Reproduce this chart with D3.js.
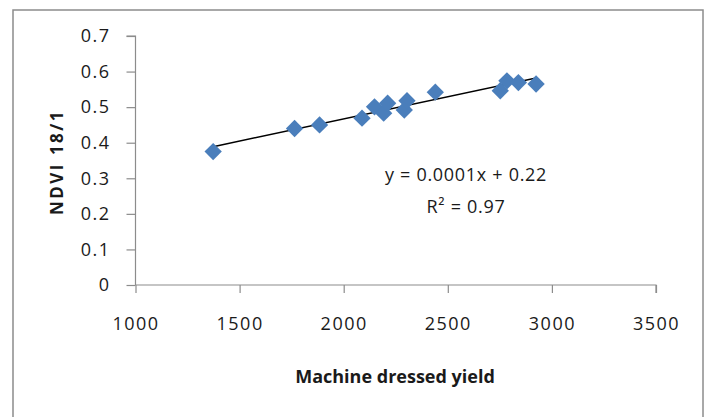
<!DOCTYPE html>
<html>
<head>
<meta charset="utf-8">
<script src="https://cdn.jsdelivr.net/npm/d3@7"></script>
<style>
  body { margin: 0; background: #fff; }
  text { font-family: 'Open Sans', sans-serif; fill: #1a1a1a; }
</style>
</head>
<body>
<div id="container"></div>
<script>
const yieldValues = [1373, 1764, 1884, 2088, 2148, 2192, 2211, 2291, 2304, 2440, 2752, 2784, 2839, 2924];
const ndviValues = [0.375, 0.44, 0.45, 0.469, 0.501, 0.483, 0.511, 0.492, 0.518, 0.542, 0.546, 0.574, 0.569, 0.565];
const xTicks = [1000, 1500, 2000, 2500, 3000, 3500];
const yTicks = [0, 0.1, 0.2, 0.3, 0.4, 0.5, 0.6, 0.7];
const equationLines = ['y = 0.0001x + 0.22', 'R² = 0.97'];

const svgWidth = 710;
const svgHeight = 417;

const svg = d3
  .select('#container')
  .append('svg')
  .attr('width', svgWidth)
  .attr('height', svgHeight);

// chart area border (bottom edge falls outside the picture)
svg
  .append('rect')
  .attr('x', 13)
  .attr('y', 10)
  .attr('width', 690)
  .attr('height', 430)
  .attr('fill', 'none')
  .attr('stroke', '#8c8c8c')
  .attr('stroke-width', 1.5);

const x = d3.scaleLinear().domain([1000, 3500]).range([135.5, 656]);
const y = d3.scaleLinear().domain([0, 0.7]).range([285, 36]);

// Axes
const xAxis = svg
  .append('g')
  .attr('transform', `translate(0,${y(0)})`)
  .call(d3.axisBottom(x).tickValues(xTicks).tickSize(8).tickPadding(24).tickFormat(d3.format('d')));

const yAxis = svg
  .append('g')
  .attr('transform', `translate(${x(1000)},0)`)
  .call(d3.axisLeft(y).tickValues(yTicks).tickSize(9).tickPadding(16).tickFormat(d => (d === 0 ? '0' : d3.format('.1f')(d))));

[xAxis, yAxis].forEach(g => {
  g.selectAll('path, line').attr('stroke', '#8c8c8c').attr('stroke-width', 1.2);
  g.selectAll('text')
    .attr('fill', '#1a1a1a')
    .style('font-size', '18px')
    .style('letter-spacing', '1.5px');
});
yAxis.select('.domain').attr('d', `M-9,${y(0.7)}H0V${y(0)}`);
xAxis.select('.domain').attr('d', `M${x(1000)},0H${x(3500)}V8`);

// Trend line (least squares)
const n = yieldValues.length;
const mx = d3.mean(yieldValues);
const my = d3.mean(ndviValues);
const slope =
  d3.sum(yieldValues, (v, i) => (v - mx) * (ndviValues[i] - my)) /
  d3.sum(yieldValues, v => (v - mx) * (v - mx));
const intercept = my - slope * mx;
const xExtent = d3.extent(yieldValues);

svg
  .append('line')
  .attr('x1', x(xExtent[0]))
  .attr('y1', y(intercept + slope * xExtent[0]))
  .attr('x2', x(xExtent[1]))
  .attr('y2', y(intercept + slope * xExtent[1]))
  .attr('stroke', '#000')
  .attr('stroke-width', 1.5);

// Points
svg
  .selectAll('path.point')
  .data(yieldValues)
  .enter()
  .append('path')
  .attr('class', 'point')
  .attr('d', d3.symbol(d3.symbolSquare, 150)())
  .attr('transform', (d, i) => `translate(${x(d)},${y(ndviValues[i])}) rotate(45)`)
  .attr('fill', '#4a7ebb');

// Equation
svg
  .selectAll('text.eq')
  .data(equationLines)
  .enter()
  .append('text')
  .attr('class', 'eq')
  .attr('x', 466)
  .attr('y', (d, i) => 181 + i * 32)
  .attr('text-anchor', 'middle')
  .style('font-size', '18px')
  .style('letter-spacing', '0.7px')
  .attr('fill', '#333')
  .text(d => d);

// Axis titles
svg
  .append('text')
  .attr('x', 395)
  .attr('y', 383)
  .attr('text-anchor', 'middle')
  .style('font-size', '18px')
  .style('font-weight', 'bold')
  .text('Machine dressed yield');

svg
  .append('text')
  .attr('transform', 'translate(63,162) rotate(-90)')
  .attr('text-anchor', 'middle')
  .style('font-size', '17px')
  .style('font-weight', 'bold')
  .style('letter-spacing', '2.5px')
  .text('NDVI 18/1');
</script>
</body>
</html>
